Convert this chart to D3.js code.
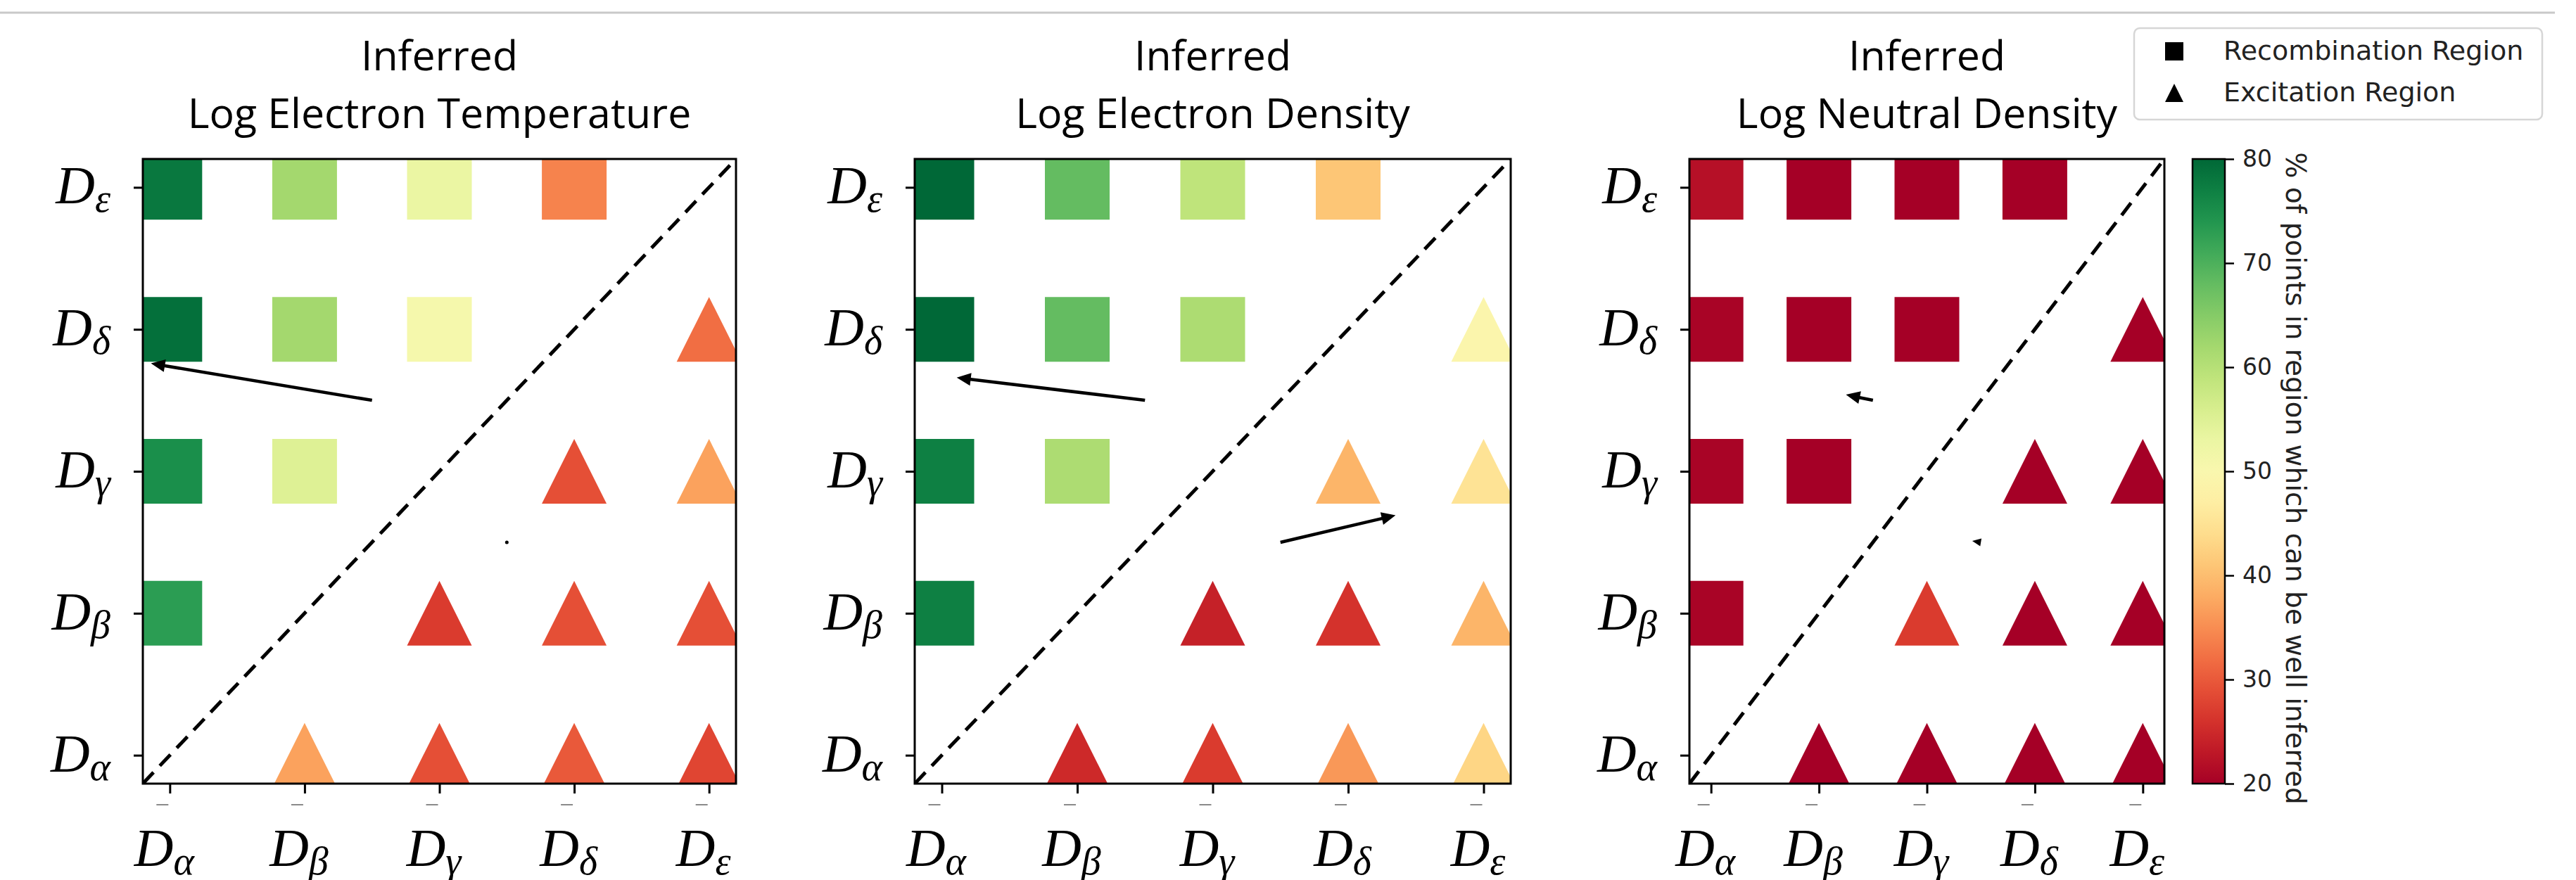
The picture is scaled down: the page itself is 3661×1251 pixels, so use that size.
<!DOCTYPE html>
<html>
<head>
<meta charset="utf-8">
<script src="https://cdn.jsdelivr.net/npm/d3@7"></script>
<style>
  html, body { margin: 0; padding: 0; background: #fff; }
  svg { display: block; }
</style>
</head>
<body>
<svg id="chart"></svg>
<script>
// categories along both axes (D_alpha ... D_epsilon)
const lines = ["α", "β", "γ", "δ", "ε"];
const lineIdx = [0, 1, 2, 3, 4];

const panelTitles = [
  ["Inferred", "Log Electron Temperature"],
  ["Inferred", "Log Electron Density"],
  ["Inferred", "Log Neutral Density"],
];

// % of points well inferred, rows = y line (alpha..eps), cols = x line (alpha..eps)
// above diagonal (x < y) -> recombination (square), below (x > y) -> excitation (triangle)
const tempValues = [
  [null, 37, 29, 30, 28],
  [73, null, 27, 29, 29],
  [75, 55, null, 29, 37],
  [79, 62, 51, null, 32],
  [78, 62, 53, 34, null],
];
const densValues = [
  [null, 25, 27, 36, 43],
  [77, null, 24, 26, 39],
  [77, 61, null, 39, 45],
  [80, 68, 61, null, 49],
  [80, 68, 59, 41, null],
];
const neutValues = [
  [null, 20, 20, 20, 20],
  [20.5, null, 27, 20, 20],
  [20.5, 20, null, 20, 20],
  [20.5, 20, 20, null, 20],
  [22, 20, 20, 20, null],
];

// quiver arrows: tails (data units) and vectors per panel
const arrowTails = [[1.5, 2.5], [2.5, 1.5]];
const tempArrows = [[-1.64, 0.26], [0, 0]];
const densArrows = [[-1.39, 0.16], [0.85, 0.19]];
const neutArrows = [[-0.25, 0.04], [-0.08, 0.01]];

const cbTicks = [20, 30, 40, 50, 60, 70, 80];
const legendLabels = ["Recombination Region", "Excitation Region"];
const cbLabel = "% of points in region which can be well inferred";

const panelData = [
  { titles: panelTitles[0], values: tempValues, arrows: tempArrows },
  { titles: panelTitles[1], values: densValues, arrows: densArrows },
  { titles: panelTitles[2], values: neutValues, arrows: neutArrows },
];

// layout
const width = 3661;
const height = 1251;
const plotTop = 226;
const plotBottom = 1114;
const panelX = [
  { left: 203, right: 1046 },
  { left: 1300, right: 2147 },
  { left: 2401, right: 3076 },
];
const markerSize = 92;
const serif = "'Liberation Serif', 'DejaVu Serif', serif";
const sans = "'DejaVu Sans', sans-serif";

const color = d3.scaleSequential(d3.interpolateRdYlGn).domain([20, 80]);

// matplotlib style '^' marker : apex up, base as wide as tall
const symbolTri = {
  draw(context, size) {
    const r = Math.sqrt(size) / 2;
    context.moveTo(0, -r);
    context.lineTo(r, r);
    context.lineTo(-r, r);
    context.closePath();
  },
};

const svg = d3.select("#chart").attr("width", width).attr("height", height);

svg.append("rect").attr("width", width).attr("height", height).attr("fill", "#fff");

// thin grey rule along the top
svg.append("line")
  .attr("x1", 0).attr("x2", 3631)
  .attr("y1", 18).attr("y2", 18)
  .attr("stroke", "#c9c9c9")
  .attr("stroke-width", 3);

const defs = svg.append("defs");

// label "D" + greek subscript
function dLabel(sel, greek) {
  sel.append("tspan")
    .attr("font-style", "italic")
    .attr("font-size", 77)
    .text("D");
  sel.append("tspan")
    .attr("font-style", "italic")
    .attr("font-size", 56)
    .attr("dy", 12)
    .text(greek);
}

panelData.forEach((p, pi) => {
  const { left, right } = panelX[pi];

  const x = d3.scaleLinear().domain([-0.2, 4.2]).range([left, right]);
  const y = d3.scaleLinear().domain([-0.2, 4.2]).range([plotBottom, plotTop]);

  const g = svg.append("g").attr("class", "panel");

  defs.append("clipPath")
    .attr("id", "clip" + pi)
    .append("rect")
    .attr("x", left)
    .attr("y", plotTop)
    .attr("width", right - left)
    .attr("height", plotBottom - plotTop);

  // titles
  g.selectAll(".title")
    .data(p.titles)
    .join("text")
    .attr("class", "title")
    .attr("x", (left + right) / 2)
    .attr("y", (d, i) => 100 + i * 82)
    .attr("text-anchor", "middle")
    .attr("font-family", "'Open Sans', 'Noto Sans', sans-serif")
    .attr("font-size", 59)
    .attr("fill", "#000")
    .text((d) => d);

  // flatten the matrix into cells
  const cells = [];
  p.values.forEach((row, yi) => {
    row.forEach((v, xi) => {
      if (v !== null) cells.push({ xi, yi, v, recomb: xi < yi });
    });
  });

  const plot = g.append("g").attr("clip-path", `url(#clip${pi})`);

  plot.selectAll(".marker")
    .data(cells)
    .join("path")
    .attr("class", "marker")
    .attr("transform", (d) => `translate(${x(d.xi)},${y(d.yi)})`)
    .attr("d", (d) =>
      d3.symbol(d.recomb ? d3.symbolSquare : symbolTri, markerSize * markerSize)()
    )
    .attr("fill", (d) => color(d.v));

  // y = x dashed line
  plot.append("path")
    .datum([[-0.2, -0.2], [4.2, 4.2]])
    .attr("d", d3.line().x((d) => x(d[0])).y((d) => y(d[1])))
    .attr("stroke", "#000")
    .attr("stroke-width", 5)
    .attr("stroke-dasharray", "22,13")
    .attr("fill", "none");

  // quiver arrows
  const arrows = arrowTails.map((t, i) => ({ t, v: p.arrows[i] }));
  arrows.forEach((a) => {
    const x0 = x(a.t[0]);
    const y0 = y(a.t[1]);
    const x1 = x(a.t[0] + a.v[0]);
    const y1 = y(a.t[1] + a.v[1]);
    const L = Math.hypot(x1 - x0, y1 - y0);
    if (L < 1) {
      plot.append("circle").attr("cx", x0).attr("cy", y0).attr("r", 2.5).attr("fill", "#000");
      return;
    }
    const ux = (x1 - x0) / L, uy = (y1 - y0) / L;
    const nx = -uy, ny = ux;
    let hl = 20, hw = 9;
    const sw = 2.3;
    let pts;
    if (L <= hl) {
      const k = L / hl;
      hw *= k;
      pts = [
        [x0 + nx * hw, y0 + ny * hw],
        [x1, y1],
        [x0 - nx * hw, y0 - ny * hw],
      ];
    } else {
      const bx = x1 - ux * hl, by = y1 - uy * hl;
      pts = [
        [x0 + nx * sw, y0 + ny * sw],
        [bx + nx * sw, by + ny * sw],
        [bx + nx * hw, by + ny * hw],
        [x1, y1],
        [bx - nx * hw, by - ny * hw],
        [bx - nx * sw, by - ny * sw],
        [x0 - nx * sw, y0 - ny * sw],
      ];
    }
    plot.append("polygon")
      .attr("points", pts.map((q) => q.join(",")).join(" "))
      .attr("fill", "#000");
  });

  // frame
  g.append("rect")
    .attr("x", left)
    .attr("y", plotTop)
    .attr("width", right - left)
    .attr("height", plotBottom - plotTop)
    .attr("fill", "none")
    .attr("stroke", "#000")
    .attr("stroke-width", 3);

  // axes (tick marks only, labels drawn below)
  const xAxis = d3.axisBottom(x).tickValues(lineIdx).tickFormat("").tickSize(14);
  const yAxis = d3.axisLeft(y).tickValues(lineIdx).tickFormat("").tickSize(13);

  const gx = g.append("g").attr("transform", `translate(0,${plotBottom})`).call(xAxis);
  const gy = g.append("g").attr("transform", `translate(${left},0)`).call(yAxis);
  gx.select(".domain").remove();
  gy.select(".domain").remove();
  g.selectAll(".tick line").attr("stroke", "#000").attr("stroke-width", 3);

  // little grey stubs under the x ticks
  g.selectAll(".stub")
    .data(lineIdx)
    .join("line")
    .attr("class", "stub")
    .attr("x1", (d) => x(d) - 19)
    .attr("x2", (d) => x(d) - 2)
    .attr("y1", 1144)
    .attr("y2", 1144)
    .attr("stroke", "#8a8a8a")
    .attr("stroke-width", 2);

  g.selectAll(".xlab")
    .data(lineIdx)
    .join("text")
    .attr("class", "xlab")
    .attr("x", (d) => x(d) - 8)
    .attr("y", 1231)
    .attr("text-anchor", "middle")
    .attr("font-family", serif)
    .attr("fill", "#000")
    .each(function (d) {
      dLabel(d3.select(this), lines[d]);
    });

  g.selectAll(".ylab")
    .data(lineIdx)
    .join("text")
    .attr("class", "ylab")
    .attr("x", left - 46)
    .attr("y", (d) => y(d) + 23)
    .attr("text-anchor", "end")
    .attr("font-family", serif)
    .attr("fill", "#000")
    .each(function (d) {
      dLabel(d3.select(this), lines[d]);
    });
});

// colorbar
const cbLeft = 3116;
const cbRight = 3162;
const cbScale = d3.scaleLinear().domain([20, 80]).range([plotBottom, plotTop]);

const grad = defs.append("linearGradient")
  .attr("id", "cbGrad")
  .attr("x1", 0).attr("x2", 0)
  .attr("y1", 1).attr("y2", 0);
grad.selectAll("stop")
  .data(d3.range(0, 1.0001, 0.05))
  .join("stop")
  .attr("offset", (d) => d)
  .attr("stop-color", (d) => d3.interpolateRdYlGn(d));

svg.append("rect")
  .attr("x", cbLeft)
  .attr("y", plotTop)
  .attr("width", cbRight - cbLeft)
  .attr("height", plotBottom - plotTop)
  .attr("fill", "url(#cbGrad)")
  .attr("stroke", "#000")
  .attr("stroke-width", 2.5);

const cbAxis = d3.axisRight(cbScale).tickValues(cbTicks).tickSize(13).tickPadding(12);
const gcb = svg.append("g").attr("transform", `translate(${cbRight},0)`).call(cbAxis);
gcb.select(".domain").remove();
gcb.selectAll(".tick line").attr("stroke", "#000").attr("stroke-width", 2.5);
gcb.selectAll(".tick text")
  .attr("font-family", sans)
  .attr("font-size", 33)
  .attr("fill", "#222");

svg.append("text")
  .attr("transform", `translate(3249,${(plotTop + plotBottom) / 2 + 10}) rotate(90)`)
  .attr("text-anchor", "middle")
  .attr("font-family", sans)
  .attr("font-size", 39)
  .attr("fill", "#222")
  .text(cbLabel);

// legend
const legend = svg.append("g");
legend.append("rect")
  .attr("x", 3033)
  .attr("y", 40)
  .attr("width", 580)
  .attr("height", 130)
  .attr("rx", 8)
  .attr("fill", "#fff")
  .attr("stroke", "#d6d6d6")
  .attr("stroke-width", 2.5);

const legItems = legend.selectAll(".leg")
  .data(legendLabels)
  .join("g")
  .attr("class", "leg")
  .attr("transform", (d, i) => `translate(3090,${73 + i * 59})`);

legItems.append("path")
  .attr("d", (d, i) => d3.symbol(i === 0 ? d3.symbolSquare : symbolTri, 26 * 26)())
  .attr("fill", "#000");

legItems.append("text")
  .attr("x", 70)
  .attr("y", 12)
  .attr("font-family", sans)
  .attr("font-size", 38)
  .attr("fill", "#222")
  .text((d) => d);
</script>
</body>
</html>
